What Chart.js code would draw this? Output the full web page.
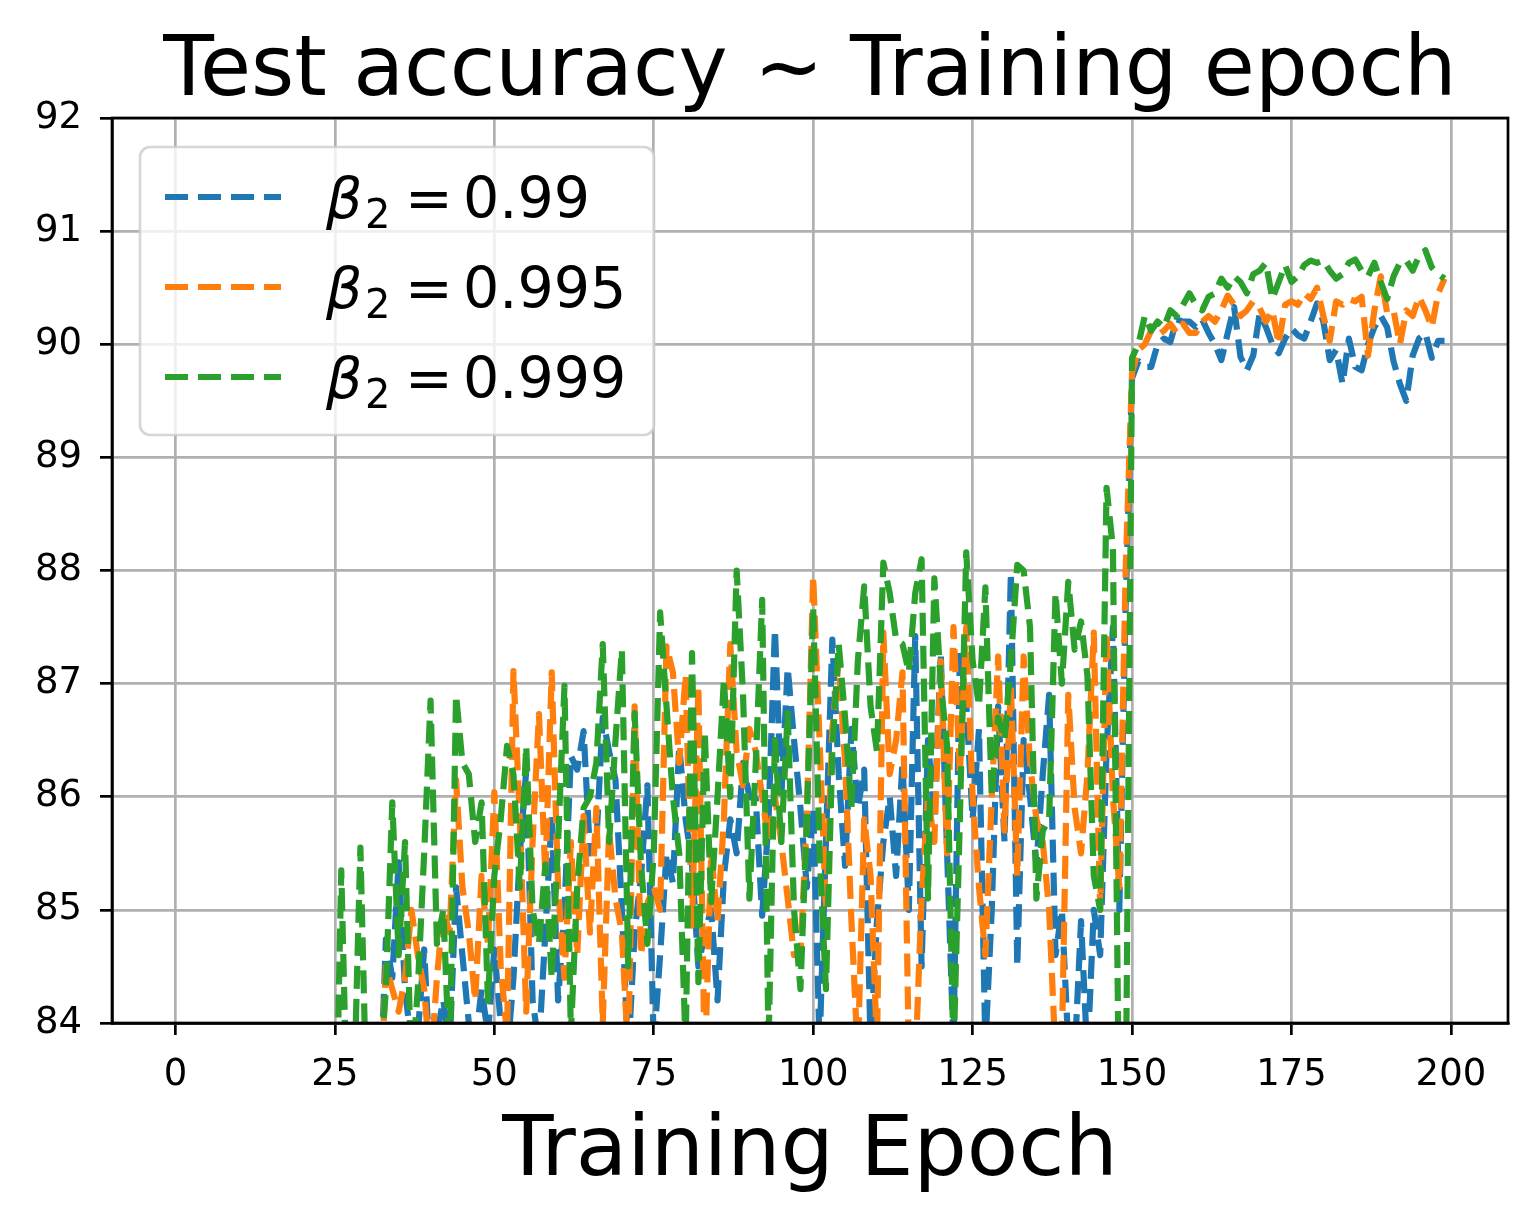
<!DOCTYPE html>
<html>
<head>
<meta charset="utf-8">
<script src="https://cdn.jsdelivr.net/npm/chart.js@4.4.1/dist/chart.umd.min.js"></script>
<style>
  html, body { margin: 0; padding: 0; background: #fff; }
  canvas { display: block; }
</style>
</head>
<body>
<canvas id="chart" width="1537" height="1221"></canvas>
<script>
// epochs 0..199
const epochs = Array.from({ length: 200 }, (_, i) => i);

const xTicks = [0, 25, 50, 75, 100, 125, 150, 175, 200];
const yTicks = [84, 85, 86, 87, 88, 89, 90, 91, 92];

const seriesLabels = ['0.99', '0.995', '0.999'];

// beta2 = 0.99
const acc099 = [
  48.3, 58.7, 63.9, 68.4, 70.1, 72.8, 74.5, 75.2, 76.9, 77.4,
  78.6, 78.1, 79.5, 80.2, 79.8, 80.9, 81.3, 80.7, 81.8, 82.0,
  81.5, 82.4, 82.1, 82.9, 82.6, 81.5, 82.0, 81.8, 82.3, 82.1,
  82.6, 82.9, 83.2, 84.74, 84.4, 85.42, 84.3, 83.8, 83.9, 84.65,
  83.5, 83.9, 84.2, 83.8, 85.2, 84.6, 84.0, 83.8, 84.3, 83.9,
  84.65, 84.0, 83.7, 84.4, 85.5, 86.23, 84.2, 83.8, 84.8, 85.83,
  84.2, 85.0, 86.36, 86.24, 86.58, 85.5, 85.6, 86.7, 86.4, 86.15,
  85.0, 83.7, 84.8, 85.3, 86.1, 83.8, 84.6, 85.5, 85.24, 86.45,
  85.8, 85.4, 84.5, 84.8, 85.0, 84.2, 85.3, 85.8, 85.5, 86.3,
  86.0, 85.98, 84.95, 85.8, 87.48, 86.0, 87.14, 86.5, 85.9, 85.2,
  85.9, 83.8, 85.6, 87.39, 86.2, 85.39, 86.6, 85.9, 86.24, 83.8,
  84.9, 85.6, 86.0, 85.3, 86.3, 85.0, 87.42, 84.5, 86.5, 85.8,
  87.27, 85.5, 83.8, 87.3, 86.83, 85.8, 86.6, 83.8, 85.0, 86.8,
  85.6, 87.98, 84.5, 86.5, 86.0, 85.4, 86.2, 86.9, 84.6, 85.0,
  83.8, 83.7, 84.9, 83.7, 85.0, 84.6, 86.4, 87.5, 85.0, 87.7,
  89.7, 89.85, 89.8, 89.8, 90.0, 90.05, 90.02, 90.22, 90.2, 90.2,
  90.15, 90.22, 90.1, 90.0, 89.86, 90.1, 90.33, 89.89, 89.77, 89.9,
  90.27, 90.15, 90.0, 89.92, 90.05, 90.14, 90.08, 90.05, 90.2, 90.36,
  90.2, 89.86, 89.95, 89.65, 90.05, 89.8, 89.77, 90.0, 90.15, 90.25,
  90.15, 89.85, 89.65, 89.5, 89.9, 90.05, 90.1, 89.88, 90.03, 90.03
];

// beta2 = 0.995
const acc0995 = [
  49.1, 59.2, 64.5, 68.0, 71.3, 73.1, 74.2, 76.0, 76.5, 77.8,
  78.3, 79.0, 79.4, 80.1, 80.6, 80.3, 81.4, 81.1, 81.9, 82.2,
  81.8, 82.7, 82.3, 83.0, 82.5, 82.0, 82.5, 82.2, 82.8, 82.4,
  83.0, 82.6, 83.1, 84.5, 84.3, 84.1, 84.4, 85.0, 84.6, 84.3,
  83.6, 84.4, 85.0, 84.8, 86.15, 85.2, 84.8, 84.2, 85.3, 84.7,
  86.04, 84.5, 83.9, 87.11, 85.8, 84.1, 85.6, 86.73, 85.3, 87.1,
  85.2, 84.4, 85.6, 84.6, 85.83, 84.8, 85.9, 84.0, 85.7, 85.1,
  84.8, 83.7, 86.8, 84.6, 85.06, 85.2, 85.0, 87.33, 87.1, 86.3,
  87.08, 84.86, 86.98, 83.6, 85.5, 84.9, 85.8, 87.35, 86.4, 86.1,
  86.6, 86.4, 86.0, 85.6, 86.0, 85.6, 85.1, 84.6, 84.6, 85.8,
  87.95, 86.5, 85.0, 86.6, 87.2, 86.3, 84.9, 83.7, 85.8, 85.3,
  83.8, 87.45, 86.2, 86.5, 87.1, 83.7, 83.6, 85.1, 86.0, 85.6,
  87.2, 85.5, 87.5, 86.2, 87.5, 86.0, 85.2, 84.6, 86.0, 87.24,
  85.7, 86.98, 85.3, 87.24, 86.3, 85.8, 85.6, 85.0, 83.7, 83.8,
  86.9, 85.9, 85.5, 86.2, 87.45, 85.0, 87.45, 86.0, 85.2, 88.0,
  89.75, 89.95, 90.0, 90.12, 90.08, 90.12, 90.18, 90.1, 90.18, 90.1,
  90.1, 90.2, 90.25, 90.2, 90.3, 90.43, 90.35, 90.25, 90.3, 90.38,
  90.32, 90.2, 90.3, 90.0, 90.35, 90.38, 90.35, 90.45, 90.4, 90.5,
  90.25, 90.03, 90.38, 90.35, 90.4, 90.38, 90.42, 89.9, 90.3, 90.6,
  90.28, 90.3, 90.0, 90.3, 90.25, 90.42, 90.3, 90.15, 90.45, 90.58
];

// beta2 = 0.999
const acc0999 = [
  50.2, 60.1, 65.7, 69.3, 71.9, 73.8, 75.1, 76.3, 77.2, 78.0,
  78.9, 79.2, 80.0, 80.4, 81.0, 80.8, 81.7, 81.5, 82.3, 82.1,
  82.8, 82.6, 83.2, 82.9, 83.4, 82.5, 85.35, 83.0, 83.4, 85.55,
  83.2, 82.8, 83.5, 84.3, 85.95, 84.6, 85.6, 83.5, 84.3, 85.5,
  86.85, 84.7, 85.0, 83.6, 86.9, 86.3, 86.2, 85.6, 85.95, 84.2,
  85.3, 85.8, 86.45, 86.2, 85.2, 86.45, 85.0, 84.7, 85.4, 84.4,
  85.6, 86.98, 83.9, 85.2, 85.9, 86.0, 86.3, 87.35, 85.6, 86.5,
  87.3, 84.5, 86.74, 85.4, 84.7, 85.5, 87.63, 86.8, 86.0, 85.5,
  83.8, 87.27, 84.36, 86.57, 85.07, 86.0, 87.04, 86.0, 88.0, 86.9,
  85.1, 86.3, 87.74, 83.8, 86.5, 85.6, 86.74, 85.0, 84.3, 85.8,
  87.67, 85.5, 84.3, 86.4, 87.35, 86.7, 85.9, 87.2, 87.86, 86.8,
  86.4, 88.07, 87.8, 87.39, 87.35, 87.1, 87.8, 88.1, 85.1, 87.93,
  87.0, 86.45, 83.7, 85.8, 88.16, 87.2, 86.8, 87.85, 86.0, 86.7,
  86.5, 87.2, 88.05, 88.0, 87.5, 85.1, 85.7, 85.8, 87.8, 87.0,
  87.9, 87.3, 87.55, 87.07, 85.3, 85.0, 88.73, 88.2, 83.0, 83.2,
  89.88, 90.0, 90.25, 90.12, 90.2, 90.15, 90.3, 90.25, 90.35, 90.45,
  90.35, 90.3, 90.42, 90.45, 90.58, 90.5, 90.6, 90.55, 90.45, 90.62,
  90.65, 90.72, 90.4, 90.55, 90.7, 90.55, 90.6, 90.7, 90.74, 90.72,
  90.74, 90.65, 90.58, 90.62, 90.72, 90.75, 90.65, 90.6, 90.72, 90.55,
  90.4, 90.6, 90.72, 90.74, 90.65, 90.78, 90.83, 90.68, 90.62, 90.58
];

const colors = ['#1f77b4', '#ff7f0e', '#2ca02c'];
const dash = [23, 10];
const lineW = 6.2;
const FONT = "'DejaVu Sans', 'Liberation Sans', sans-serif";

const toPoints = vals => epochs.map((e, i) => ({ x: e, y: vals[i] }));

// title, axis label, legend and the top/right spines
const decorations = {
  id: 'decorations',
  afterDatasetsDraw(chart) {
    const { ctx, chartArea: a } = chart;
    ctx.save();
    ctx.strokeStyle = '#000';
    ctx.lineWidth = 2.7;
    ctx.strokeRect(a.left, a.top, a.right - a.left, a.bottom - a.top);
    ctx.restore();
  },
  afterDraw(chart) {
    const { ctx, chartArea: a } = chart;
    const cx = (a.left + a.right) / 2;
    ctx.save();
    ctx.fillStyle = '#000';
    ctx.textAlign = 'center';
    ctx.textBaseline = 'alphabetic';
    ctx.font = `83px ${FONT}`;
    ctx.fillText('Test accuracy ~ Training epoch', cx, 95);
    ctx.font = `84px ${FONT}`;
    ctx.fillText('Training Epoch', cx, 1175);

    // legend box
    const bx = 140, by = 147, bw = 514, bh = 288, r = 10;
    ctx.beginPath();
    ctx.moveTo(bx + r, by);
    ctx.arcTo(bx + bw, by, bx + bw, by + bh, r);
    ctx.arcTo(bx + bw, by + bh, bx, by + bh, r);
    ctx.arcTo(bx, by + bh, bx, by, r);
    ctx.arcTo(bx, by, bx + bw, by, r);
    ctx.closePath();
    ctx.fillStyle = 'rgba(255,255,255,0.8)';
    ctx.fill();
    ctx.strokeStyle = 'rgba(204,204,204,0.8)';
    ctx.lineWidth = 2.7;
    ctx.stroke();

    seriesLabels.forEach((lab, i) => {
      const ly = 197 + i * 90;
      ctx.beginPath();
      ctx.setLineDash(dash);
      ctx.lineCap = 'butt';
      ctx.strokeStyle = colors[i];
      ctx.lineWidth = lineW;
      ctx.moveTo(165, ly);
      ctx.lineTo(281, ly);
      ctx.stroke();
      ctx.setLineDash([]);

      const base = ly + 21;
      ctx.fillStyle = '#000';
      ctx.textAlign = 'left';
      ctx.font = `italic 57px ${FONT}`;
      ctx.fillText('\u03b2', 326, base);
      ctx.font = `40px ${FONT}`;
      ctx.fillText('2', 365, base + 10);
      ctx.font = `57px ${FONT}`;
      ctx.fillText('=', 405, base);
      ctx.fillText(lab, 463, base);
    });
    ctx.restore();
  }
};

const tickFont = { family: FONT, size: 37 };

new Chart(document.getElementById('chart').getContext('2d'), {
  type: 'line',
  data: {
    datasets: [acc099, acc0995, acc0999].map((vals, i) => ({
      label: 'beta2 = ' + seriesLabels[i],
      data: toPoints(vals),
      borderColor: colors[i],
      borderWidth: lineW,
      borderDash: dash,
      borderCapStyle: 'butt',
      borderJoinStyle: 'round',
      pointRadius: 0,
      tension: 0,
      fill: false,
      clip: 0,
      order: 3 - i
    }))
  },
  options: {
    responsive: false,
    animation: false,
    events: [],
    layout: { padding: { top: 118, right: 29, left: 0, bottom: 0 } },
    plugins: {
      legend: { display: false },
      tooltip: { enabled: false },
      title: { display: false }
    },
    scales: {
      x: {
        type: 'linear',
        min: -9.95,
        max: 208.95,
        afterBuildTicks: s => { s.ticks = xTicks.map(v => ({ value: v })); },
        afterFit: s => { s.height = 198; },
        grid: { color: '#b0b0b0', lineWidth: 2.7, tickColor: '#000', tickLength: 12, tickWidth: 2.7 },
        border: { color: '#000', width: 2.7 },
        ticks: { font: tickFont, color: '#000', padding: 18, maxRotation: 0, autoSkip: false }
      },
      y: {
        type: 'linear',
        min: 84,
        max: 92,
        afterBuildTicks: s => { s.ticks = yTicks.map(v => ({ value: v })); },
        afterFit: s => { s.width = 112; },
        grid: { color: '#b0b0b0', lineWidth: 2.7, tickColor: '#000', tickLength: 12, tickWidth: 2.7 },
        border: { color: '#000', width: 2.7 },
        ticks: { font: tickFont, color: '#000', padding: 18, autoSkip: false }
      }
    }
  },
  plugins: [decorations]
});
</script>
</body>
</html>
